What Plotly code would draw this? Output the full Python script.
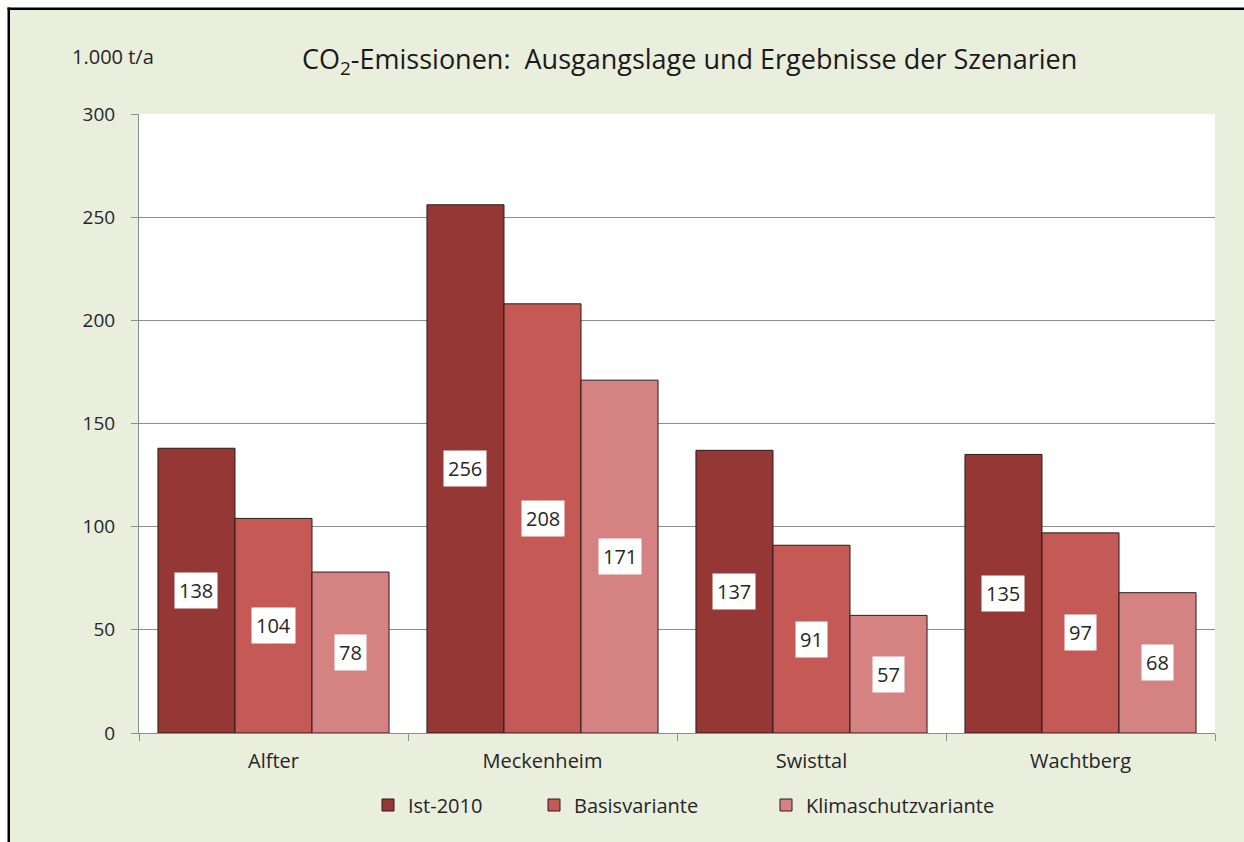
import plotly.graph_objects as go

# Data (1.000 t CO2 per year)
municipalities = ["Alfter", "Meckenheim", "Swisttal", "Wachtberg"]
series_names = ["Ist-2010", "Basisvariante", "Klimaschutzvariante"]
ist_2010 = [138, 256, 137, 135]
basisvariante = [104, 208, 91, 97]
klimaschutzvariante = [78, 171, 57, 68]
y_tick_values = [0, 50, 100, 150, 200, 250, 300]

series_values = [ist_2010, basisvariante, klimaschutzvariante]
series_colors = ["#943735", "#C45955", "#D58282"]
legend_widths = [121, 187, 200]

# Figure geometry
W, H = 1244, 842
M_L, M_R, M_T, M_B = 139, 29, 114, 109
PLOT_W = W - M_L - M_R
PLOT_H = H - M_T - M_B
BARGAP = 0.141

FONT = "Open Sans"
TEXT = "#262626"
BG = "#EAEEDD"
GRID = "#8C8C8C"


def px_x(px):
    return (px - M_L) / PLOT_W


def px_y(py):
    return (H - M_B - py) / PLOT_H


fig = go.Figure()
for name, vals, color, lw in zip(series_names, series_values, series_colors, legend_widths):
    fig.add_trace(go.Bar(
        x=municipalities, y=vals, name=name,
        marker=dict(color=color, line=dict(color="#2b1d1d", width=1)),
        legendwidth=lw,
        hoverinfo="x+y+name",
    ))

# Value labels in white boxes at the middle of each bar
bar_px = PLOT_W / len(municipalities) * (1 - BARGAP) / len(series_names)
annotations = []
for i, vals in enumerate(series_values):
    shift = (i - (len(series_names) - 1) / 2) * bar_px
    for cat, v in zip(municipalities, vals):
        annotations.append(dict(
            x=cat, y=v / 2, xref="x", yref="y", xshift=shift,
            text=str(v), showarrow=False,
            font=dict(family=FONT, size=20, color=TEXT),
            bgcolor="white", borderpad=4,
        ))

# Chart title and unit label
annotations.append(dict(
    x=px_x(689), y=px_y(60), xref="paper", yref="paper",
    xanchor="center", yanchor="middle", showarrow=False,
    text="CO<sub>2</sub>-Emissionen:\u00a0 Ausgangslage und Ergebnisse der Szenarien",
    font=dict(family=FONT, size=27, color="#1a1a1a"),
))
annotations.append(dict(
    x=px_x(70), y=px_y(57), xref="paper", yref="paper",
    xanchor="left", yanchor="middle", showarrow=False,
    text="1.000 t/a",
    font=dict(family=FONT, size=20, color=TEXT),
))

_no_line = dict(width=0)
shapes = [
    # chart area background
    dict(type="rect", xref="paper", yref="paper", layer="below",
         x0=px_x(9), x1=px_x(1400), y0=px_y(1000), y1=px_y(9),
         fillcolor=BG, line=_no_line),
    # frame: left and top edges
    dict(type="rect", xref="paper", yref="paper", layer="below",
         x0=px_x(7.5), x1=px_x(10), y0=px_y(1000), y1=px_y(7.5),
         fillcolor="black", line=_no_line),
    dict(type="rect", xref="paper", yref="paper", layer="below",
         x0=px_x(7.5), x1=px_x(1400), y0=px_y(10), y1=px_y(7.5),
         fillcolor="black", line=_no_line),
    # plot area
    dict(type="rect", xref="paper", yref="paper", layer="below",
         x0=0, x1=1, y0=0, y1=1, fillcolor="white", line=_no_line),
]

fig.update_layout(
    width=W, height=H,
    margin=dict(l=M_L, r=M_R, t=M_T, b=M_B, pad=0),
    paper_bgcolor="white", plot_bgcolor="white",
    barmode="group", bargap=BARGAP, bargroupgap=0,
    font=dict(family=FONT, size=18, color=TEXT),
    annotations=annotations, shapes=shapes,
    showlegend=True,
    legend=dict(
        orientation="h", x=px_x(368), xanchor="left",
        y=px_y(805), yanchor="middle",
        font=dict(family=FONT, size=20, color=TEXT),
        bgcolor="rgba(0,0,0,0)", itemclick=False, itemdoubleclick=False,
    ),
    xaxis=dict(
        type="category", showgrid=False, showline=True, linecolor=GRID, linewidth=1,
        ticks="outside", tickson="boundaries", ticklen=7, tickcolor=GRID,
        tickfont=dict(family=FONT, size=20, color=TEXT), ticklabelstandoff=10,
        fixedrange=True,
    ),
    yaxis=dict(
        range=[0, 300], tickvals=y_tick_values, showgrid=True, gridcolor=GRID, gridwidth=1,
        showline=True, linecolor=GRID, linewidth=1, zeroline=False,
        ticks="outside", ticklen=7, tickcolor=GRID,
        tickfont=dict(family=FONT, size=19, color=TEXT), ticklabelstandoff=12,
        fixedrange=True,
    ),
)

fig.write_html("out.html")
